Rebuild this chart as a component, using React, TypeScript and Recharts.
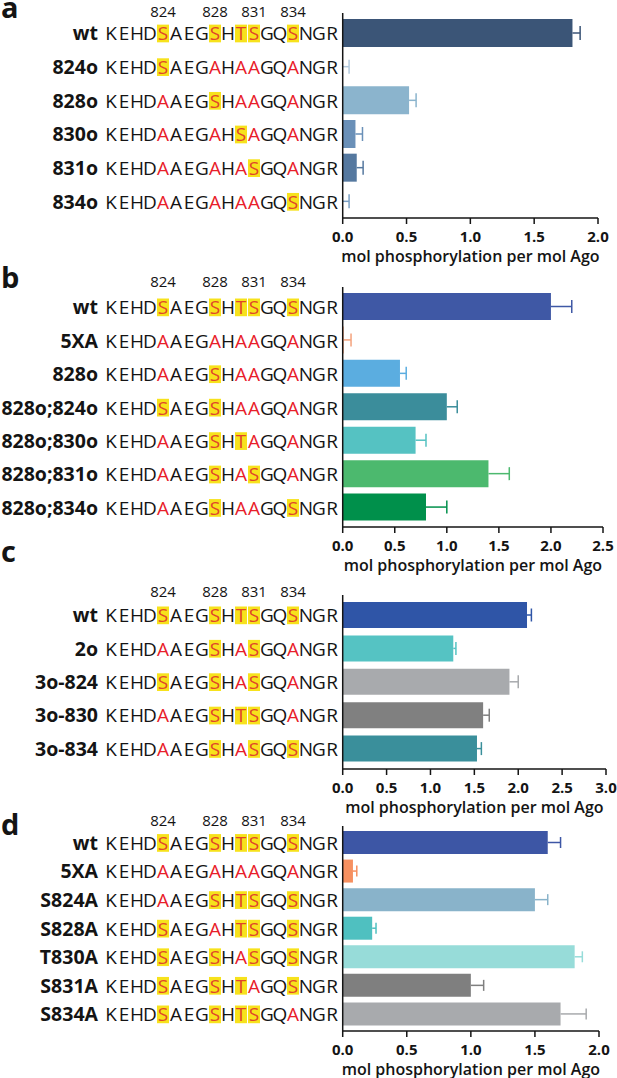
import React from 'react';
import { BarChart, Bar, XAxis, YAxis, Cell } from 'recharts';

const FONT = "'Open Sans', 'Noto Sans', sans-serif";
const YELLOW = '#f7e21c';
const RED = '#e8202a';
const HL_TEXT = '#e0452a';
const INK = '#141414';

const SEQ_X0 = 111;
const SEQ_STEP = 13;
const NAME_X = 98;
const SITE_IDX = [4, 8, 10, 11, 14];
const SITE_LABELS = ['824', '828', '831', '834'];
const SITE_LABEL_IDX = [4, 8, 11, 14];
const AXIS_TITLE = 'mol phosphorylation per mol Ago';

// ---- Panel a ----
const namesA = ['wt', '824o', '828o', '830o', '831o', '834o'];
const seqsA = [
  'KEHDSAEGSHTSGQSNGR',
  'KEHDSAEGAHAAGQANGR',
  'KEHDAAEGSHAAGQANGR',
  'KEHDAAEGAHSAGQANGR',
  'KEHDAAEGAHASGQANGR',
  'KEHDAAEGAHAAGQSNGR',
];
const valuesA = [1.8, 0, 0.52, 0.1, 0.11, 0];
const errorsA = [0.06, 0.05, 0.055, 0.055, 0.05, 0.05];
const colorsA = ['#3b5577', '#b3cade', '#8bb4cd', '#6a90b8', '#55789f', '#7a9fc4'];
const ticksA = [0, 0.5, 1, 1.5, 2];

// ---- Panel b ----
const namesB = ['wt', '5XA', '828o', '828o;824o', '828o;830o', '828o;831o', '828o;834o'];
const seqsB = [
  'KEHDSAEGSHTSGQSNGR',
  'KEHDAAEGAHAAGQANGR',
  'KEHDAAEGSHAAGQANGR',
  'KEHDSAEGSHAAGQANGR',
  'KEHDAAEGSHTAGQANGR',
  'KEHDAAEGSHASGQANGR',
  'KEHDAAEGSHAAGQSNGR',
];
const valuesB = [2.0, 0.01, 0.55, 1.0, 0.7, 1.4, 0.8];
const errorsB = [0.2, 0.07, 0.06, 0.1, 0.1, 0.2, 0.2];
const colorsB = ['#3f58a5', '#f4a27c', '#5badE0', '#3b8d9b', '#55c2c2', '#4cb96e', '#00904b'];
const ticksB = [0, 0.5, 1, 1.5, 2, 2.5];

// ---- Panel c ----
const namesC = ['wt', '2o', '3o-824', '3o-830', '3o-834'];
const seqsC = [
  'KEHDSAEGSHTSGQSNGR',
  'KEHDAAEGSHASGQANGR',
  'KEHDSAEGSHASGQANGR',
  'KEHDAAEGSHTSGQANGR',
  'KEHDAAEGSHASGQSNGR',
];
const valuesC = [2.1, 1.26, 1.9, 1.6, 1.53];
const errorsC = [0.05, 0.03, 0.1, 0.07, 0.05];
const colorsC = ['#2f55a7', '#55c3c3', '#a8aaad', '#808080', '#3a8f9b'];
const ticksC = [0, 0.5, 1, 1.5, 2, 2.5, 3];

// ---- Panel d ----
const namesD = ['wt', '5XA', 'S824A', 'S828A', 'T830A', 'S831A', 'S834A'];
const seqsD = [
  'KEHDSAEGSHTSGQSNGR',
  'KEHDAAEGAHAAGQANGR',
  'KEHDAAEGSHTSGQSNGR',
  'KEHDSAEGAHTSGQSNGR',
  'KEHDSAEGSHASGQSNGR',
  'KEHDSAEGSHTAGQSNGR',
  'KEHDSAEGSHTSGQANGR',
];
const valuesD = [1.6, 0.08, 1.5, 0.23, 1.81, 1.0, 1.7];
const errorsD = [0.1, 0.03, 0.1, 0.03, 0.06, 0.1, 0.2];
const colorsD = ['#3d56a5', '#f69060', '#89b3ca', '#4fc0c0', '#97dcd9', '#7f7f7f', '#a8aaad'];
const ticksD = [0, 0.5, 1, 1.5, 2];

type PanelCfg = {
  letter: string;
  letterBase: number;
  numBase: number;
  yTop: number;
  axisY: number;
  padTop: number;
  padBottom: number;
  right: number;
  barSize: number;
  capHalf: number;
  names: string[];
  seqs: string[];
  values: number[];
  errors: number[];
  colors: string[];
  ticks: number[];
};

const panels: PanelCfg[] = [
  { letter: 'a', letterBase: 18, numBase: 17, yTop: 13, axisY: 218, padTop: 3, padBottom: 0, right: 598, barSize: 28, capHalf: 7,
    names: namesA, seqs: seqsA, values: valuesA, errors: errorsA, colors: colorsA, ticks: ticksA },
  { letter: 'b', letterBase: 288, numBase: 287, yTop: 287, axisY: 527, padTop: 3, padBottom: 3, right: 603, barSize: 27, capHalf: 6.5,
    names: namesB, seqs: seqsB, values: valuesB, errors: errorsB, colors: colorsB, ticks: ticksB },
  { letter: 'c', letterBase: 562, numBase: 597, yTop: 595, axisY: 769, padTop: 3, padBottom: 4, right: 606, barSize: 26, capHalf: 6.5,
    names: namesC, seqs: seqsC, values: valuesC, errors: errorsC, colors: colorsC, ticks: ticksC },
  { letter: 'd', letterBase: 835, numBase: 826, yTop: 826, axisY: 1031, padTop: 2, padBottom: 3, right: 599, barSize: 23, capHalf: 5.5,
    names: namesD, seqs: seqsD, values: valuesD, errors: errorsD, colors: colorsD, ticks: ticksD },
];

function RowTick(props: any) {
  const { y, payload, seqMap } = props;
  const name = payload.value as string;
  const seq: string = seqMap[name] || '';
  const base = y + 7.5;
  return (
    <g>
      <text x={NAME_X} y={base} textAnchor="end" fontFamily={FONT} fontWeight={700} fontSize={19.5} fill={INK}>
        {name}
      </text>
      {SITE_IDX.map((i) =>
        seq[i] === 'S' || seq[i] === 'T' ? (
          <rect key={'h' + i} x={SEQ_X0 + i * SEQ_STEP - 6} y={base - 15.7} width={12} height={17.7} fill={YELLOW} />
        ) : null
      )}
      <text y={base} textAnchor="middle" fontFamily={FONT} fontSize={19} fill={INK}>
        {seq.split('').map((ch, i) => {
          const site = SITE_IDX.indexOf(i) >= 0;
          const fill = site ? (ch === 'A' ? RED : HL_TEXT) : INK;
          return (
            <tspan key={i} x={SEQ_X0 + i * SEQ_STEP} fill={fill}>
              {ch}
            </tspan>
          );
        })}
      </text>
    </g>
  );
}

function ErrShape(props: any) {
  const { x, y, width, height, payload, capHalf } = props;
  if (x == null || width == null) return null;
  const cy = y + height / 2;
  const x2 = x + width;
  return (
    <g stroke={payload.color} strokeWidth={1.5} fill="none">
      <line x1={x} y1={cy} x2={x2} y2={cy} />
      <line x1={x2} y1={cy - capHalf} x2={x2} y2={cy + capHalf} />
    </g>
  );
}

const M_TOP = 4;
const X_AXIS_H = 50;

function Panel({ cfg }: { cfg: PanelCfg }) {
  const rows = cfg.names.map((n, i) => ({
    name: n,
    value: cfg.values[i],
    err: cfg.errors[i],
    color: cfg.colors[i],
  }));
  const seqMap: Record<string, string> = {};
  cfg.names.forEach((n, i) => (seqMap[n] = cfg.seqs[i]));
  const height = cfg.axisY - cfg.yTop + M_TOP + X_AXIS_H;
  const max = cfg.ticks[cfg.ticks.length - 1];
  return (
    <div style={{ position: 'absolute', left: 0, top: cfg.yTop - M_TOP }}>
      <BarChart
        layout="vertical"
        width={617}
        height={height}
        data={rows}
        margin={{ top: M_TOP, right: 617 - cfg.right, bottom: 0, left: 0 }}
      >
        <XAxis
          type="number"
          domain={[0, max]}
          ticks={cfg.ticks}
          tickFormatter={(v: number) => v.toFixed(1)}
          height={X_AXIS_H}
          tickMargin={7}
          tickSize={6}
          axisLine={{ stroke: INK, strokeWidth: 1.5 }}
          tickLine={{ stroke: INK, strokeWidth: 1.5 }}
          tick={{ fill: INK, fontSize: 15, fontWeight: 700, fontFamily: FONT }}
          label={{
            value: AXIS_TITLE,
            position: 'insideBottom',
            offset: 6.5,
            style: { fill: INK, fontSize: 16, fontWeight: 600, fontFamily: FONT },
          }}
        />
        <YAxis
          type="category"
          dataKey="name"
          width={342.7}
          interval={0}
          padding={{ top: cfg.padTop, bottom: cfg.padBottom }}
          axisLine={{ stroke: INK, strokeWidth: 1.5 }}
          tickLine={false}
          tick={(p: any) => <RowTick {...p} seqMap={seqMap} />}
        />
        <Bar dataKey="value" stackId="s" barSize={cfg.barSize} isAnimationActive={false}>
          {rows.map((r, i) => (
            <Cell key={i} fill={r.color} />
          ))}
        </Bar>
        <Bar
          dataKey="err"
          stackId="s"
          barSize={cfg.barSize}
          isAnimationActive={false}
          shape={(p: any) => <ErrShape {...p} capHalf={cfg.capHalf} />}
        />
      </BarChart>
    </div>
  );
}

function Overlay() {
  return (
    <svg width={617} height={1078} style={{ position: 'absolute', left: 0, top: 0, pointerEvents: 'none' }}>
      {panels.map((p) => (
        <g key={p.letter}>
          <text x={1} y={p.letterBase} fontFamily={FONT} fontWeight={700} fontSize={29} fill={INK}>
            {p.letter}
          </text>
          {SITE_LABELS.map((lab, k) => (
            <text
              key={lab}
              x={SEQ_X0 + SITE_LABEL_IDX[k] * SEQ_STEP}
              y={p.numBase}
              textAnchor="middle"
              fontFamily={FONT}
              fontSize={15}
              fill={INK}
            >
              {lab}
            </text>
          ))}
        </g>
      ))}
    </svg>
  );
}

export default function App() {
  return (
    <div style={{ position: 'absolute', left: 0, top: 0, width: 617, height: 1078, background: '#fff', overflow: 'hidden' }}>
      {panels.map((p) => (
        <Panel key={p.letter} cfg={p} />
      ))}
      <Overlay />
    </div>
  );
}
